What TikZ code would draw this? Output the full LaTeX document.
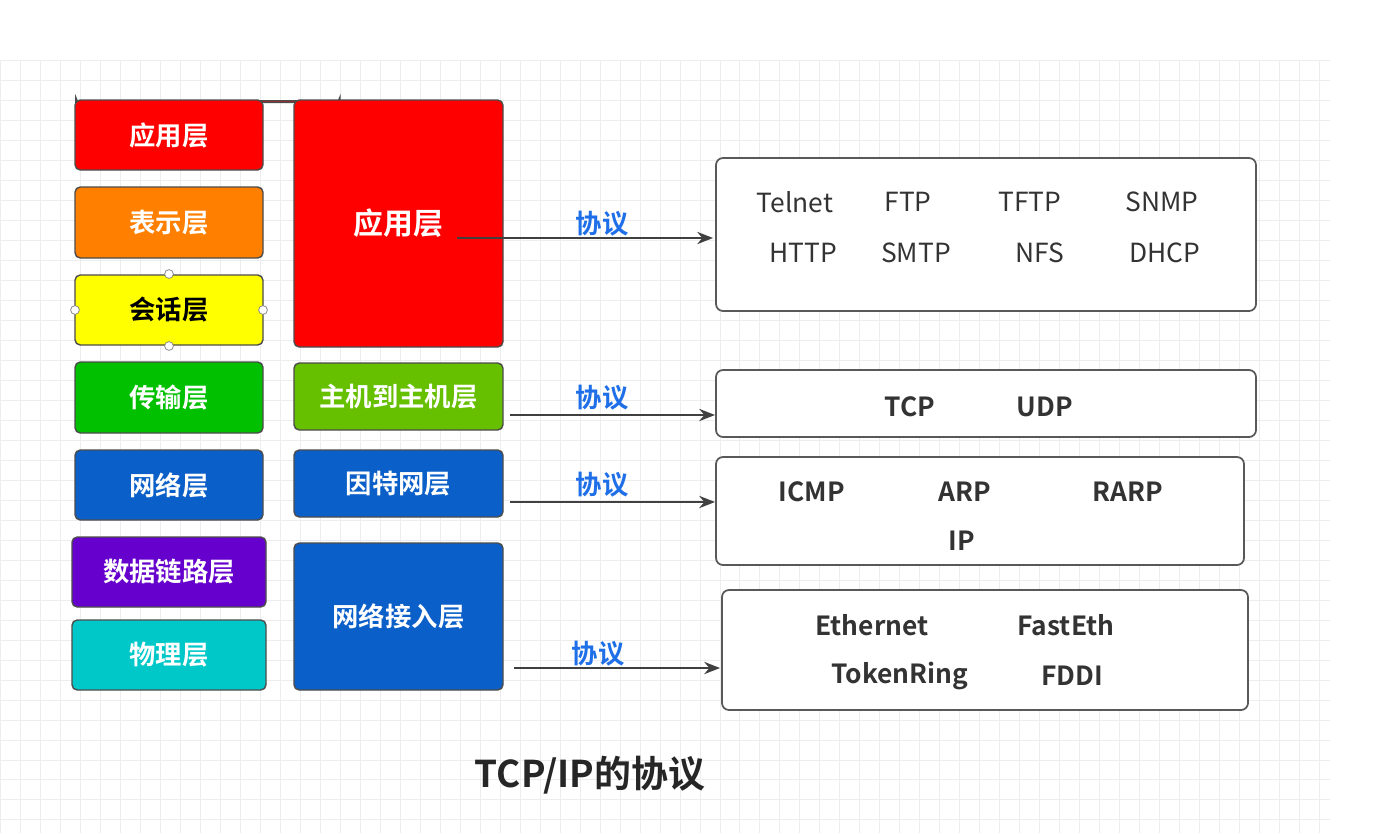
\documentclass[tikz,border=0pt]{standalone}
\usepackage{fontspec}
\setmainfont{Noto Sans CJK SC}[BoldFont={Noto Sans CJK SC Bold}]
\usetikzlibrary{arrows.meta}
\definecolor{cred}{HTML}{FF0000}
\definecolor{corange}{HTML}{FF7F00}
\definecolor{cyel}{HTML}{FFFF00}
\definecolor{cgreen}{HTML}{00C000}
\definecolor{clgreen}{HTML}{66C000}
\definecolor{cblue}{HTML}{0B5FC8}
\definecolor{cpurple}{HTML}{6600CC}
\definecolor{ccyan}{HTML}{00C8C8}
\definecolor{clab}{HTML}{1E6FE8}
\definecolor{ctxt}{HTML}{333333}
\begin{document}
\begin{tikzpicture}[x=0.02cm,y=-0.02cm,
  layer/.style={draw=black!70,line width=0.8pt,rounded corners=3pt,text=white,font=\bfseries\fontsize{15}{18}\selectfont,anchor=north west,inner sep=0pt},
  pbox/.style={draw=black!65,line width=1pt,rounded corners=4pt,anchor=north west,inner sep=0pt},
  ptxt/.style={text=ctxt,font=\fontsize{15}{18}\selectfont},
  arr/.style={-{Stealth[length=9pt,width=7pt]},line width=1pt,draw=black!75},
  lab/.style={text=clab,font=\bfseries\fontsize{15}{18}\selectfont},
  handle/.style={circle,draw=black!50,fill=white,inner sep=0pt,minimum size=5pt}]
\useasboundingbox (0,0) rectangle (1380,833);
\fill[white] (0,0) rectangle (1380,833);
\draw[black!7,step=0.4cm] (0,60) grid (1330,833);
% left column
\node[layer,fill=cred,minimum width=188\pgflinewidth] (l1) at (75,100) {};
\foreach \n/\c/\ya/\yb/\xa/\xb/\t in {l1/cred/100/170/75/263/应用层, l2/corange/187/258/75/263/表示层, l4/cgreen/362/433/75/263/传输层, l5/cblue/450/520/75/263/网络层, l6/cpurple/537/607/72/266/数据链路层, l7/ccyan/620/690/72/266/物理层}
  \draw[draw=black!70,line width=0.8pt,rounded corners=3pt,fill=\c] (\xa,\ya) rectangle (\xb,\yb) node[midway,text=white,font=\bfseries\fontsize{15}{18}\selectfont] (\n) {\t};
\draw[draw=black!70,line width=0.8pt,rounded corners=3pt,fill=cyel] (75,275) rectangle (263,345) node[midway,text=black,font=\bfseries\fontsize{15}{18}\selectfont] (l3) {会话层};
\node[handle] (h1) at (169,274) {};
\node[handle] (h2) at (169,346) {};
\node[handle] (h3) at (75,310) {};
\node[handle] (h4) at (263,310) {};
% middle column
\draw[draw=black!70,line width=0.8pt,rounded corners=3pt,fill=cred] (294,100) rectangle (503,347) node[midway,text=white,font=\bfseries\fontsize{17}{20}\selectfont] (m1) {应用层};
\draw[draw=black!70,line width=0.8pt,rounded corners=3pt,fill=clgreen] (294,363) rectangle (503,430) node[midway,text=white,font=\bfseries\fontsize{15}{18}\selectfont] (m2) {主机到主机层};
\draw[draw=black!70,line width=0.8pt,rounded corners=3pt,fill=cblue] (294,450) rectangle (503,517) node[midway,text=white,font=\bfseries\fontsize{15}{18}\selectfont] (m3) {因特网层};
\draw[draw=black!70,line width=0.8pt,rounded corners=3pt,fill=cblue] (294,543) rectangle (503,690) node[midway,text=white,font=\bfseries\fontsize{15}{18}\selectfont] (m4) {网络接入层};
% right boxes
\draw[draw=black!65,line width=1pt,rounded corners=4pt,fill=white] (716,158) rectangle (1256,311);
\draw[draw=black!65,line width=1pt,rounded corners=4pt,fill=white] (716,370) rectangle (1256,437);
\draw[draw=black!65,line width=1pt,rounded corners=4pt,fill=white] (716,457) rectangle (1244,565);
\draw[draw=black!65,line width=1pt,rounded corners=4pt,fill=white] (722,590) rectangle (1248,710);
\foreach \x/\y/\t in {795/202/Telnet, 908/202/FTP, 1030/202/TFTP, 1162/202/SNMP, 803/253/HTTP, 916/253/SMTP, 1040/253/NFS, 1165/253/DHCP}
  \node[ptxt] at (\x,\y) {\t};
\foreach \x/\y/\t in {910/407/TCP, 1045/407/UDP, 812/492/ICMP, 965/492/ARP, 1128/492/RARP, 962/541/IP, 872/625/Ethernet, 1066/625/FastEth, 900/676/TokenRing, 1072/676/FDDI}
  \node[ptxt,font=\bfseries\fontsize{15}{18}\selectfont] at (\x,\y) {\t};
% arrows
\coordinate (e1) at (713,238); \coordinate (e2) at (715,415);
\coordinate (e3) at (715,502); \coordinate (e4) at (720,668);
\draw[arr] (m1.east |- e1) ++(7,0) -- (e1);
\draw[arr] (510,415) -- (e2);
\draw[arr] (510,502) -- (e3);
\draw[arr] (514,668) -- (e4);
\node[lab] at (602,224) {协议};
\node[lab] at (602,398) {协议};
\node[lab] at (602,485) {协议};
\node[lab] at (598,654) {协议};
\node[font=\bfseries\fontsize{21}{25}\selectfont,text=black!85] (title) at (590,775) {TCP/IP的协议};
\end{tikzpicture}
\end{document}
